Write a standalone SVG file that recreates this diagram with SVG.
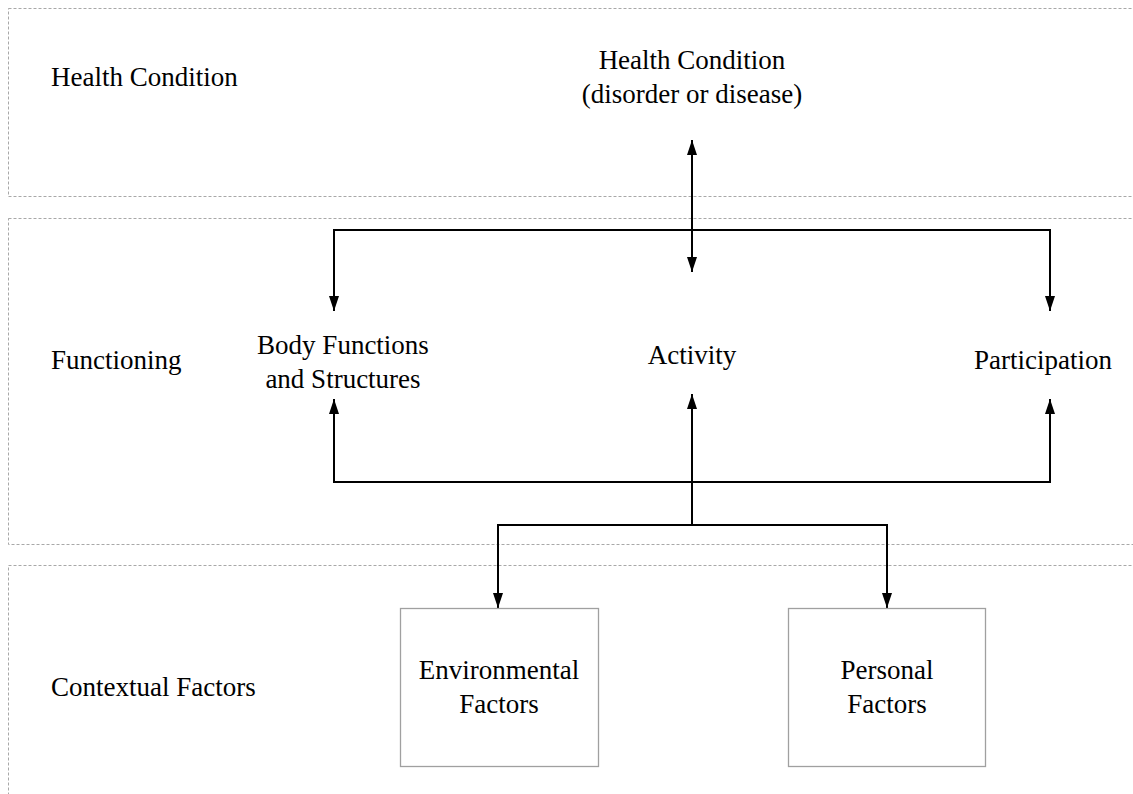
<svg xmlns="http://www.w3.org/2000/svg" width="1133" height="794" viewBox="0 0 1133 794">
<defs>
<style>
.band{fill:none;stroke:#a8a8a8;stroke-width:1;stroke-dasharray:3,2}
.t{font-family:"Liberation Serif","Times New Roman",serif;font-size:27px;fill:#000}
.c{text-anchor:middle}
.box{fill:#fff;stroke:#a0a0a0;stroke-width:1.3}
.ln{fill:none;stroke:#000;stroke-width:2}
</style>
<marker id="ah" viewBox="0 0 15 10" refX="15" refY="5" markerWidth="7.5" markerHeight="5" markerUnits="strokeWidth" orient="auto">
<path d="M0,0 L15,5 L0,10 z" fill="#000"/>
</marker>
<marker id="as" viewBox="0 0 15 10" refX="0" refY="5" markerWidth="7.5" markerHeight="5" markerUnits="strokeWidth" orient="auto">
<path d="M15,0 L0,5 L15,10 z" fill="#000"/>
</marker>
</defs>
<rect width="1133" height="794" fill="#fff"/>
<g id="bands">
<rect class="band" x="8.5" y="8.5" width="1140" height="188"/>
<rect class="band" x="8.5" y="218.5" width="1140" height="326"/>
<rect class="band" x="8.5" y="565.5" width="1140" height="240"/>
</g>
<g id="labels">
<text class="t" x="51" y="86">Health Condition</text>
<text class="t" x="51" y="369">Functioning</text>
<text class="t" x="51" y="696">Contextual Factors</text>
</g>
<g id="connectors">
<line class="ln" x1="692" y1="140" x2="692" y2="272" marker-start="url(#as)" marker-end="url(#ah)"/>
<polyline class="ln" points="334,230 1050,230 1050,311" marker-end="url(#ah)"/>
<line class="ln" x1="334" y1="229" x2="334" y2="311" marker-end="url(#ah)"/>
<polyline class="ln" points="334,482 1050,482"/>
<line class="ln" x1="334" y1="483" x2="334" y2="399" marker-end="url(#ah)"/>
<line class="ln" x1="1050" y1="483" x2="1050" y2="399" marker-end="url(#ah)"/>
<line class="ln" x1="692" y1="525" x2="692" y2="394" marker-end="url(#ah)"/>
<polyline class="ln" points="498,525 887,525 887,608" marker-end="url(#ah)"/>
<line class="ln" x1="498" y1="524" x2="498" y2="608" marker-end="url(#ah)"/>
</g>
<g id="health-condition">
<text class="t c" x="692" y="69">Health Condition</text>
<text class="t c" x="692" y="103">(disorder or disease)</text>
</g>
<g id="body-functions">
<text class="t c" x="343" y="354">Body Functions</text>
<text class="t c" x="343" y="388">and Structures</text>
</g>
<g id="activity">
<text class="t c" x="692" y="364">Activity</text>
</g>
<g id="participation">
<text class="t c" x="1043" y="369">Participation</text>
</g>
<g id="environmental-factors">
<rect class="box" x="400.5" y="608.5" width="198" height="158"/>
<text class="t c" x="499" y="679">Environmental</text>
<text class="t c" x="499" y="713">Factors</text>
</g>
<g id="personal-factors">
<rect class="box" x="788.5" y="608.5" width="197" height="158"/>
<text class="t c" x="887" y="679">Personal</text>
<text class="t c" x="887" y="713">Factors</text>
</g>
</svg>
